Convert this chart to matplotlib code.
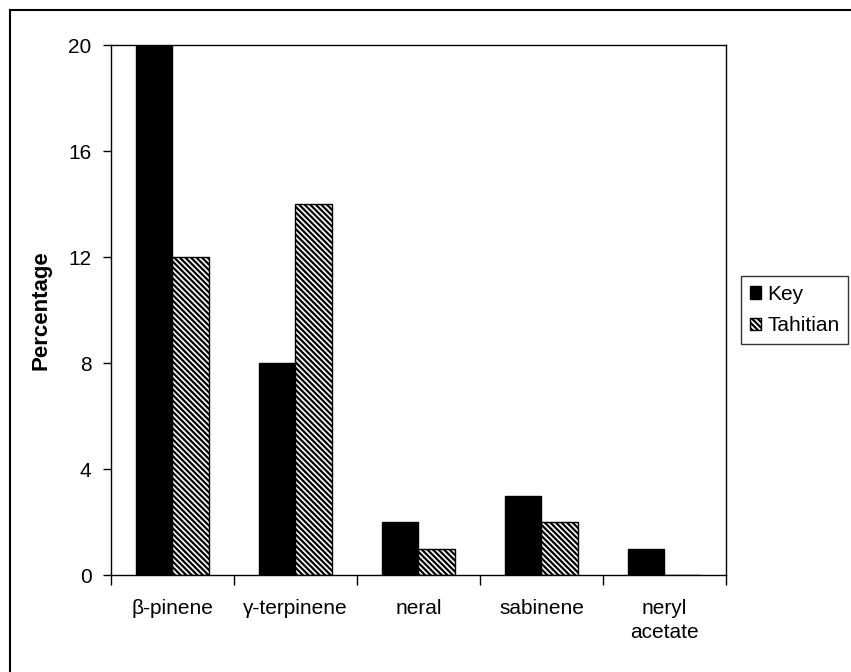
import numpy as np
import matplotlib
matplotlib.use("Agg")
import matplotlib.pyplot as plt
from matplotlib.lines import Line2D

plt.rcParams['font.family'] = ['Liberation Sans', 'DejaVu Sans']
plt.rcParams['hatch.linewidth'] = 1.6

# datos
compuestos = ["β-pinene", "γ-terpinene", "neral", "sabinene", "neryl\nacetate"]
key = [20, 8, 2, 3, 1]
tahitian = [12, 14, 1, 2, 0]
yticks = [0, 4, 8, 12, 16, 20]

fig = plt.figure(figsize=(8.51, 6.72), dpi=100)
ax = fig.add_axes([0.1304, 0.1443, 0.7226, 0.7887])

x = np.arange(len(compuestos))
ancho = 0.3
ax.bar(x - ancho / 2, key, ancho, color="black", edgecolor="black",
       linewidth=1, label="Key")
ax.bar(x + ancho / 2, tahitian, ancho, color="white", edgecolor="black",
       linewidth=1, hatch="\\" * 6, label="Tahitian")

ax.set_xlim(-0.5, len(compuestos) - 0.5)
ax.set_ylim(0, 20)
ax.set_yticks(yticks)
ax.set_yticklabels([str(v) for v in yticks], fontsize=15)

# marcas en los límites entre categorías, etiquetas centradas
ax.set_xticks(np.arange(len(compuestos) + 1) - 0.5)
ax.set_xticklabels([])
ax.set_xticks(x, minor=True)
ax.set_xticklabels(compuestos, minor=True, fontsize=15, linespacing=1.35)
ax.tick_params(axis="x", which="major", direction="out", length=7, width=1)
ax.tick_params(axis="x", which="minor", length=0, pad=17)
ax.tick_params(axis="y", direction="out", length=6, width=1, pad=8)

ax.set_ylabel("Percentage", fontsize=16, fontweight="bold", labelpad=12)
for s in ax.spines.values():
    s.set_linewidth(1)

leg = ax.legend(loc="center left", bbox_to_anchor=(1.025, 0.5), fontsize=15,
                frameon=True, fancybox=False, edgecolor="black",
                handlelength=0.55, handleheight=0.55, handletextpad=0.3,
                borderpad=0.4, labelspacing=0.6, borderaxespad=0)
leg.get_frame().set_linewidth(1)

# borde exterior (recortado a derecha y abajo)
x0 = 10 / 851
y0 = 1 - 10 / 672
fig.add_artist(Line2D([x0, x0], [0, y0], color="black", linewidth=1.5,
                      transform=fig.transFigure))
fig.add_artist(Line2D([x0, 1], [y0, y0], color="black", linewidth=1.5,
                      transform=fig.transFigure))

fig.savefig("out.png", dpi=100)
